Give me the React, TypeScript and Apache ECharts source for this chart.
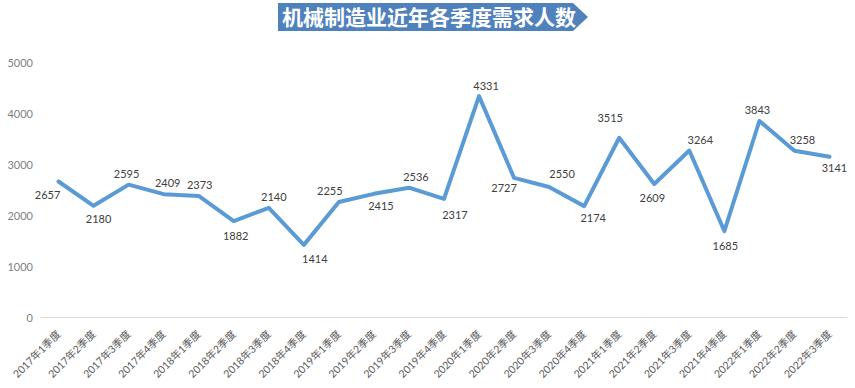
import React, { useEffect, useRef } from "react";
import * as echarts from "echarts";

const titleText = "机械制造业近年各季度需求人数";

const categories = [
  "2017年1季度", "2017年2季度", "2017年3季度", "2017年4季度",
  "2018年1季度", "2018年2季度", "2018年3季度", "2018年4季度",
  "2019年1季度", "2019年2季度", "2019年3季度", "2019年4季度",
  "2020年1季度", "2020年2季度", "2020年3季度", "2020年4季度",
  "2021年1季度", "2021年2季度", "2021年3季度", "2021年4季度",
  "2022年1季度", "2022年2季度", "2022年3季度",
];

const demand = [
  2657, 2180, 2595, 2409, 2373, 1882, 2140, 1414, 2255, 2415, 2536, 2317,
  4331, 2727, 2550, 2174, 3515, 2609, 3264, 1685, 3843, 3258, 3141,
];

const yTicks = { min: 0, max: 5000, interval: 1000 };

// label placement style: [position, dx, dy]
const labelPlacement: [string, number, number][] = [
  ["bottom", -11, 2], ["bottom", 5, 2], ["top", -2, 0], ["top", 4, -1],
  ["top", 1, 0], ["bottom", 2, 3], ["top", 5, 0], ["bottom", 11, 3],
  ["top", -9, 0], ["bottom", 7, 1], ["top", 7, 0], ["bottom", 11, 5],
  ["top", 7, 0], ["bottom", -10, -1], ["top", 13, -2], ["bottom", 9, 0],
  ["top", -9, -9], ["bottom", -2, 3], ["top", 11, 0], ["bottom", 1, 3],
  ["top", -2, -1], ["top", 8, 0], ["bottom", 5, 0],
];

export default function App() {
  const ref = useRef<HTMLDivElement>(null);
  useEffect(() => {
    if (!ref.current) return;
    const chart = echarts.init(ref.current, null, { renderer: "svg" });
    chart.setOption({
      animation: false,
      backgroundColor: "#ffffff",
      grid: { left: 41, right: 8, top: 62, bottom: 71, containLabel: false },
      graphic: [
        {
          type: "polygon",
          shape: { points: [[278, 3], [573, 3], [588, 17], [573, 31], [278, 31]] },
          style: { fill: "#4F81BD" },
        },
        {
          type: "text",
          left: 282,
          top: 5,
          style: {
            text: titleText,
            fill: "#ffffff",
            fontSize: 21,
            fontWeight: "bold",
            fontFamily: "'Noto Sans CJK SC'",
          },
        },
      ],
      xAxis: {
        type: "category",
        data: categories,
        boundaryGap: true,
        axisLine: { show: true, lineStyle: { color: "#d9d9d9", width: 1 } },
        axisTick: { show: false },
        axisLabel: {
          rotate: 45,
          interval: 0,
          margin: 15,
          color: "#595959",
          fontSize: 10.5,
          fontFamily: "Lato, 'Noto Sans CJK SC'",
        },
      },
      yAxis: {
        type: "value",
        min: yTicks.min,
        max: yTicks.max,
        interval: yTicks.interval,
        splitLine: { show: false },
        axisLine: { show: false },
        axisTick: { show: false },
        axisLabel: {
          color: "#7f7f7f",
          fontSize: 11,
          margin: 8,
          fontFamily: "Lato",
          formatter: (v: number) => String(v),
        },
      },
      series: [
        {
          type: "line",
          data: demand.map((v, i) => ({
            value: v,
            label: {
              show: true,
              position: labelPlacement[i][0],
              offset: [labelPlacement[i][1], labelPlacement[i][2]],
            },
          })),
          showSymbol: true,
          symbol: "circle",
          symbolSize: 1,
          itemStyle: { color: "rgba(91,155,213,0)", borderWidth: 0 },
          lineStyle: { color: "#5B9BD5", width: 4, cap: "round", join: "round" },
          label: {
            show: true,
            color: "#404040",
            fontSize: 11,
            fontFamily: "Lato",
            distance: 5,
          },
        },
      ],
    });
    return () => chart.dispose();
  }, []);
  return (
    <div
      ref={ref}
      style={{ position: "fixed", left: 0, top: 0, width: 855, height: 388, background: "#fff" }}
    />
  );
}
